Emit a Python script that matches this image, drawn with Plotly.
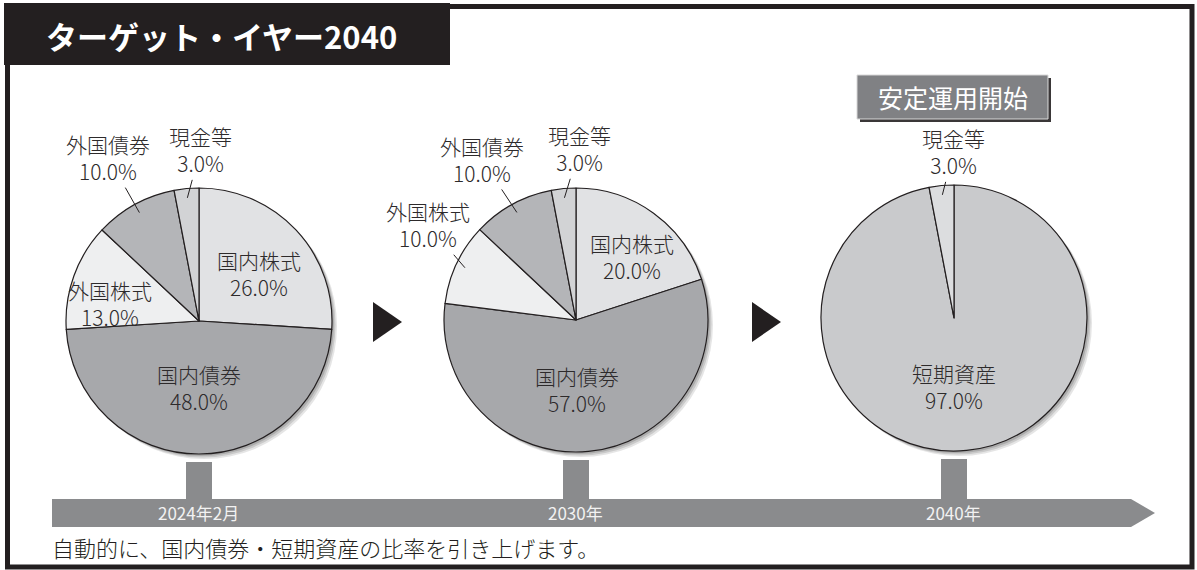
import math
import plotly.graph_objects as go

W, H = 1197, 570

# ---------------- data ----------------
title_text = "ターゲット・イヤー2040"
badge_text = "安定運用開始"
footnote_text = "自動的に、国内債券・短期資産の比率を引き上げます。"
time_labels = ["2024年2月", "2030年", "2040年"]

labels1 = ["国内株式", "国内債券", "外国株式", "外国債券", "現金等"]
values1 = [26.0, 48.0, 13.0, 10.0, 3.0]
labels2 = ["国内株式", "国内債券", "外国株式", "外国債券", "現金等"]
values2 = [20.0, 57.0, 10.0, 10.0, 3.0]
labels3 = ["短期資産", "現金等"]
values3 = [97.0, 3.0]

# ---------------- styles ----------------
DARK = "#231f20"
TXT = "#2d2a2b"
BAR = "#8a8b8d"
FONT = "Noto Sans CJK JP"
color_map = {
    "国内株式": "#e1e2e4",
    "国内債券": "#a7a8ab",
    "外国株式": "#eeeff0",
    "外国債券": "#b4b5b8",
    "現金等": "#d2d3d5",
}
color_map3 = {"短期資産": "#c9cacc", "現金等": "#dcdddf"}

# pie geometry (pixel centre, radius) and label style (mode, radial frac, dx, dy-down)
pies = [
    dict(labels=labels1, values=values1, cx=199, cy=321, r=133, colors=color_map,
         style=[("in", 0.60, 2, 7), ("in", 0.50, 0, 0), ("in", 0.68, -4, 13),
                ("out", 0.93, -31, -55), ("out", 0.93, 13, -48)]),
    dict(labels=labels2, values=values2, cx=576, cy=320, r=132, colors=color_map,
         style=[("in", 0.60, 9, 1), ("in", 0.53, -6, 0),
                ("out", 0.93, -37, -43), ("out", 0.93, -35, -53), ("out", 0.93, 15, -49)]),
    dict(labels=labels3, values=values3, cx=954, cy=318, r=133, colors=color_map3,
         style=[("in", 0.52, -7, 0), ("out", 0.93, 11, -43)]),
]


def px(x):
    return x / W


def py(y):
    return 1 - y / H


LABEL_FONT = dict(family=FONT, size=21, color=TXT, weight=300)

fig = go.Figure()
shapes = []
annotations = []

for p in pies:
    cx, cy, r = p["cx"], p["cy"], p["r"]
    fig.add_trace(go.Pie(
        labels=p["labels"], values=p["values"], sort=False,
        direction="clockwise", rotation=0,
        marker=dict(colors=[p["colors"][l] for l in p["labels"]],
                    line=dict(color=DARK, width=1.2)),
        textinfo="none", hoverinfo="skip", showlegend=False,
        domain=dict(x=[px(cx - r), px(cx + r)], y=[py(cy + r), py(cy - r)]),
    ))
    # soft drop shadow
    for off, op in [(5, 0.10), (3.5, 0.12), (2, 0.15)]:
        shapes.append(dict(type="circle", xref="paper", yref="paper", layer="below",
                           x0=px(cx - r + off), x1=px(cx + r + off),
                           y0=py(cy + r + off), y1=py(cy - r + off),
                           fillcolor=f"rgba(0,0,0,{op})", line=dict(width=0)))
    total = sum(p["values"])
    cum = 0.0
    for lab, val, st in zip(p["labels"], p["values"], p["style"]):
        mid = (cum + val / 2) / total
        cum += val
        th = 2 * math.pi * mid
        mode, frac, a, b = st
        d = frac * r
        x = cx + d * math.sin(th)
        y = cy - d * math.cos(th)
        txt = f"{lab}<br>{val:.1f}%"
        if mode == "in":
            annotations.append(dict(x=px(x), y=py(y), xref="paper", yref="paper",
                                    xanchor="center", yanchor="middle",
                                    text=txt, showarrow=False, xshift=a, yshift=-b,
                                    font=LABEL_FONT))
        else:
            annotations.append(dict(x=px(x), y=py(y), xref="paper", yref="paper",
                                    text=txt, showarrow=True, arrowhead=0,
                                    arrowwidth=1, arrowcolor=DARK, ax=a, ay=b,
                                    standoff=0, startstandoff=0,
                                    font=LABEL_FONT))

# outer frame
shapes.append(dict(type="rect", xref="paper", yref="paper", layer="above",
                   x0=px(7.5), x1=px(1192), y0=py(567), y1=py(6.5),
                   line=dict(color=DARK, width=5), fillcolor="rgba(0,0,0,0)"))
# title block
shapes.append(dict(type="rect", xref="paper", yref="paper", layer="above",
                   x0=px(4), x1=px(450), y0=py(65), y1=py(3),
                   line=dict(width=0), fillcolor=DARK))
annotations.append(dict(x=px(221), y=py(36), xref="paper", yref="paper",
                        xanchor="center", yanchor="middle",
                        text=title_text, showarrow=False,
                        font=dict(family=FONT, size=31, color="white", weight="bold")))

# badge
shapes.append(dict(type="rect", xref="paper", yref="paper", layer="above",
                   x0=px(860), x1=px(1051), y0=py(122), y1=py(78),
                   line=dict(width=0), fillcolor="#3a3738"))
shapes.append(dict(type="rect", xref="paper", yref="paper", layer="above",
                   x0=px(857), x1=px(1048), y0=py(119), y1=py(75),
                   line=dict(color="#d8d8d8", width=1), fillcolor="#808184"))
annotations.append(dict(x=px(953), y=py(97), xref="paper", yref="paper",
                        xanchor="center", yanchor="middle",
                        text=badge_text, showarrow=False,
                        font=dict(family=FONT, size=25, color="white")))

# arrows between pies
for x0 in (373, 752):
    shapes.append(dict(type="path", xref="paper", yref="paper", layer="above",
                       path=f"M {px(x0)} {py(302)} L {px(x0)} {py(342)} L {px(x0 + 29)} {py(322)} Z",
                       fillcolor=DARK, line=dict(width=0)))

# timeline bar
shapes.append(dict(type="path", xref="paper", yref="paper", layer="above",
                   path=(f"M {px(52)} {py(499)} L {px(1131)} {py(499)} L {px(1155)} {py(513)} "
                         f"L {px(1131)} {py(527)} L {px(52)} {py(527)} Z"),
                   fillcolor=BAR, line=dict(width=0)))
for p, lab in zip(pies, time_labels):
    cx = p["cx"]
    shapes.append(dict(type="rect", xref="paper", yref="paper", layer="below",
                       x0=px(cx - 13), x1=px(cx + 13), y0=py(499), y1=py(p["cy"] + p["r"] + 8),
                       fillcolor=BAR, line=dict(width=0)))
    annotations.append(dict(x=px(cx - 1), y=py(512), xref="paper", yref="paper",
                            xanchor="center", yanchor="middle",
                            text=lab, showarrow=False,
                            font=dict(family=FONT, size=17, color="#f2f2f2")))

annotations.append(dict(x=px(50), y=py(547), xref="paper", yref="paper",
                        xanchor="left", yanchor="middle",
                        text=footnote_text, showarrow=False,
                        font=dict(family=FONT, size=22, color=DARK, weight=300)))

fig.update_layout(
    width=W, height=H, margin=dict(l=0, r=0, t=0, b=0),
    paper_bgcolor="white", plot_bgcolor="white",
    shapes=shapes, annotations=annotations, showlegend=False,
)
fig.write_html("out.html", config={"displayModeBar": False},
               post_script="document.body.style.margin='0px';document.body.style.overflow='hidden';")
